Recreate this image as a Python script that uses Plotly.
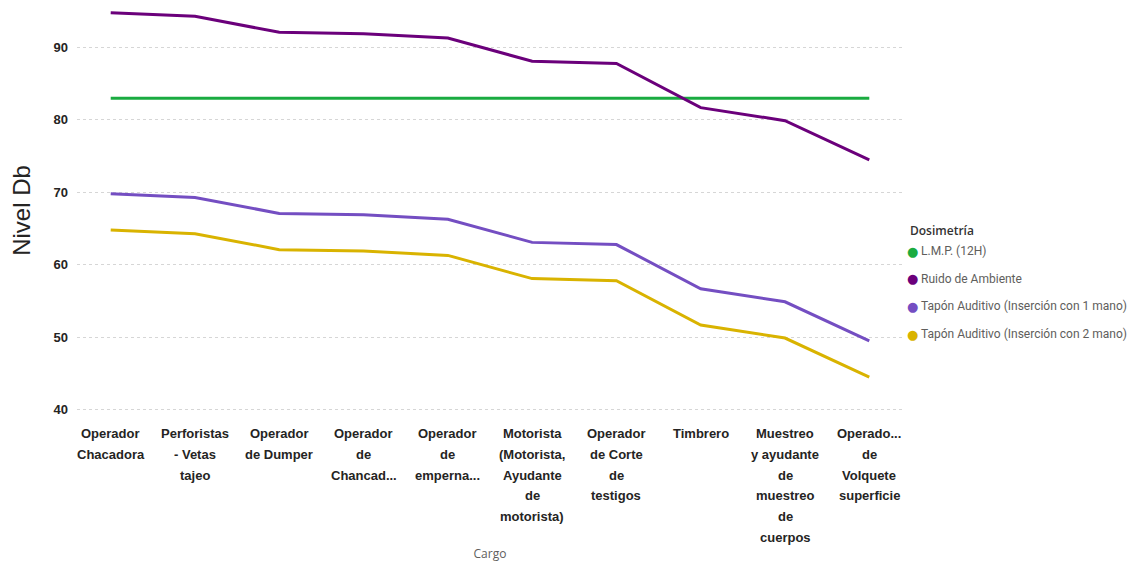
import plotly.graph_objects as go

categories = [
    "Operador Chacadora",
    "Perforistas - Vetas tajeo",
    "Operador de Dumper",
    "Operador de Chancad...",
    "Operador de emperna...",
    "Motorista (Motorista, Ayudante de motorista)",
    "Operador de Corte de testigos",
    "Timbrero",
    "Muestreo y ayudante de muestreo de cuerpos",
    "Operado... de Volquete superficie",
]
tick_lines = [
    ["Operador", "Chacadora"],
    ["Perforistas", "- Vetas", "tajeo"],
    ["Operador", "de Dumper"],
    ["Operador", "de", "Chancad..."],
    ["Operador", "de", "emperna..."],
    ["Motorista", "(Motorista,", "Ayudante", "de", "motorista)"],
    ["Operador", "de Corte", "de", "testigos"],
    ["Timbrero"],
    ["Muestreo", "y ayudante", "de", "muestreo", "de", "cuerpos"],
    ["Operado...", "de", "Volquete", "superficie"],
]
lmp = [83] * 10
ruido = [94.8, 94.3, 92.1, 91.9, 91.3, 88.1, 87.8, 81.7, 79.9, 74.5]
tapon1 = [69.8, 69.3, 67.1, 66.9, 66.3, 63.1, 62.8, 56.7, 54.9, 49.5]
tapon2 = [64.8, 64.3, 62.1, 61.9, 61.3, 58.1, 57.8, 51.7, 49.9, 44.5]

series = [
    ("L.M.P. (12H)", lmp, "#1AAB40"),
    ("Ruido de Ambiente", ruido, "#6B007B"),
    ("Tapón Auditivo (Inserción con 1 mano)", tapon1, "#744EC2"),
    ("Tapón Auditivo (Inserción con 2 mano)", tapon2, "#D9B300"),
]

W, H = 1131, 565
ml, mr, mt, mb = 77, 228, 4, 148
pw, ph = W - ml - mr, H - mt - mb


def px2paper(px, py):
    return (px - ml) / pw, 1 - (py - mt) / ph


fig = go.Figure()
for name, vals, col in series:
    fig.add_trace(go.Scatter(
        x=categories, y=vals, mode="lines", name=name,
        line=dict(color=col, width=3), showlegend=False,
    ))

annotations = []
# category labels, one line per annotation for Power BI-like line spacing
for cat, lines in zip(categories, tick_lines):
    for i, txt in enumerate(lines):
        annotations.append(dict(
            x=cat, xref="x", y=0, yref="paper", yanchor="top",
            yshift=-7 - 20.8 * i, text=txt, showarrow=False,
            font=dict(family="Liberation Sans, Arial", size=13, color="#252423", weight="bold"),
        ))

# legend (Power BI style)
tx, ty = px2paper(908, 230)
annotations.append(dict(
    x=tx, y=ty, xref="paper", yref="paper", text="Dosimetría", showarrow=False,
    xanchor="left", yanchor="middle",
    font=dict(family="Open Sans", size=12, color="#333333", weight=600),
))
for i, (name, vals, col) in enumerate(series):
    py = 251 + 27.7 * i
    dx, dy = px2paper(913, py)
    annotations.append(dict(
        x=dx, y=dy, xref="paper", yref="paper", text="●", showarrow=False,
        xanchor="center", yanchor="middle",
        font=dict(family="DejaVu Sans", size=13, color=col),
    ))
    lx, ly = px2paper(919, py)
    annotations.append(dict(
        x=lx, y=ly, xref="paper", yref="paper", text=name, showarrow=False,
        xanchor="left", yanchor="middle",
        font=dict(family="Roboto", size=12, color="#605E5C"),
    ))

fig.update_layout(
    width=W, height=H,
    margin=dict(l=ml, r=mr, t=mt, b=mb),
    plot_bgcolor="white", paper_bgcolor="white",
    annotations=annotations,
    xaxis=dict(
        type="category", range=[-0.4, 9.4], showticklabels=False,
        showgrid=False, zeroline=False, showline=False, ticks="",
        automargin=False,
        title=dict(text="Cargo", standoff=132,
                   font=dict(family="Open Sans", size=12, color="#605E5C")),
    ),
    yaxis=dict(
        range=[39, 96], tickvals=[40, 50, 60, 70, 80, 90],
        showgrid=True, gridcolor="#D6D6D6", griddash="dot", gridwidth=1,
        zeroline=False, showline=False, ticks="",
        automargin=False,
        tickfont=dict(family="Liberation Sans, Arial", size=13, color="#252423", weight="bold"),
        ticklabelstandoff=8,
        title=dict(text="Nivel Db", standoff=16,
                   font=dict(family="Liberation Sans, Arial", size=24, color="#252423")),
    ),
    showlegend=False,
)

fig.write_html("out.html")
